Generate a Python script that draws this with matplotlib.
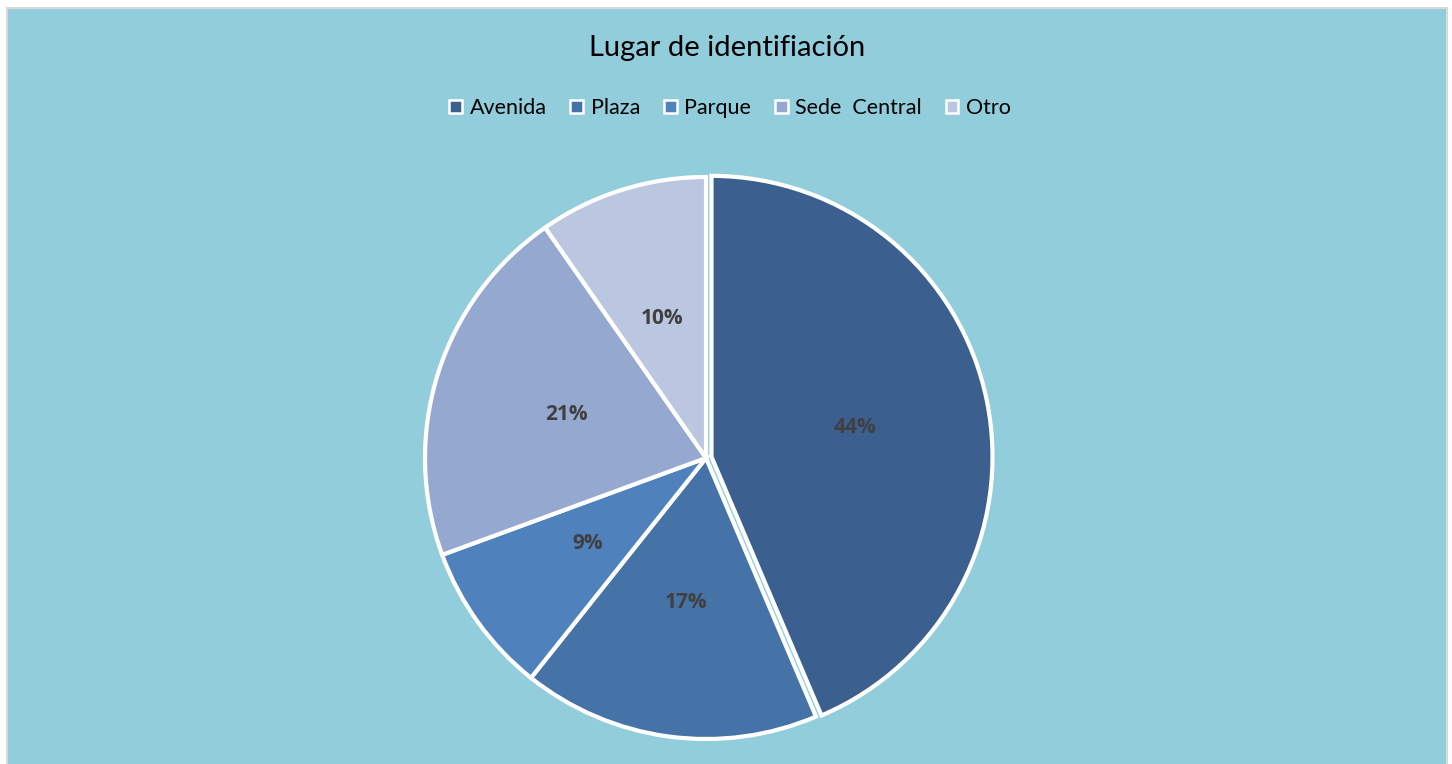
import matplotlib
matplotlib.use("Agg")
import matplotlib.pyplot as plt
from matplotlib.patches import Rectangle, Patch

categories = ["Avenida", "Plaza", "Parque", "Sede  Central", "Otro"]
values = [43.6, 17.1, 8.7, 20.9, 9.7]
colors = ["#3B5F8E", "#4572A7", "#4F81BD", "#95A9D0", "#BBC7E0"]
title = "Lugar de identifiación"

W, H = 1452, 764
fig = plt.figure(figsize=(W / 100, H / 100), dpi=100)
fig.patch.set_facecolor("white")

# chart area background
fig.add_artist(Rectangle((7 / W, -0.01), (1447 - 7) / W, (H - 8) / H + 0.01,
                         transform=fig.transFigure, facecolor="#92CDDC",
                         edgecolor="#D9D9D9", linewidth=1.5, zorder=0))

cx, cy, r = 706, H - 458, 281
pad = 1.15
ax = fig.add_axes([(cx - r * pad) / W, (cy - r * pad) / H, 2 * r * pad / W, 2 * r * pad / H])
ax.set_facecolor("none")
wedges, texts, autotexts = ax.pie(
    values, colors=colors, startangle=90, counterclock=False,
    explode=[0.02, 0, 0, 0, 0], radius=1,
    autopct="%.0f%%", pctdistance=0.52,
    wedgeprops=dict(edgecolor="white", linewidth=3.0),
    textprops=dict(fontsize=15, fontweight="bold", color="#404040", family="Open Sans"))
ax.set_xlim(-pad, pad)
ax.set_ylim(-pad, pad)
ax.axis("off")

fig.text(727 / W, 1 - 48 / H, title, ha="center", va="center",
         fontsize=21, family="Lato", color="black")

handles = [Patch(facecolor=c, edgecolor="white", linewidth=1.8) for c in colors]
leg = fig.legend(handles, categories, loc="center", bbox_to_anchor=(730 / W, 1 - 108 / H),
                 ncol=5, frameon=False, prop=dict(family="Lato", size=15.5),
                 handlelength=0.6, handleheight=0.6, handletextpad=0.35,
                 columnspacing=1.1)

fig.savefig("out.png", dpi=100, facecolor="white")
